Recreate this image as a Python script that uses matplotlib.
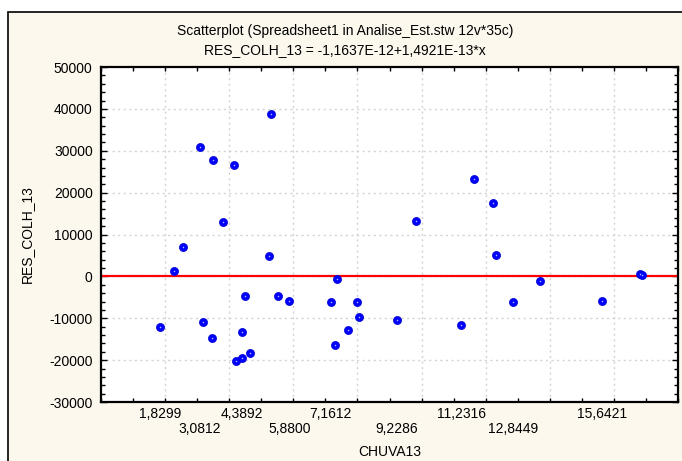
import numpy as np
import matplotlib
matplotlib.use("Agg")
import matplotlib.pyplot as plt
from matplotlib.patches import Rectangle
from matplotlib.ticker import MultipleLocator
from matplotlib.transforms import blended_transform_factory

# ================= DATA =================
chuva13 = [1.8299, 2.27, 2.57, 3.0812, 3.19, 3.45, 3.50, 3.81, 4.14, 4.20,
           4.3892, 4.39, 4.64, 4.50, 5.25, 5.31, 5.51, 5.88, 7.1612, 7.31,
           7.37, 7.70, 8.00, 8.06, 9.2286, 9.82, 11.2316, 11.63, 12.24, 12.31,
           12.8449, 13.69, 15.6421, 16.80, 16.87]
res_colh_13 = [-12100, 1300, 7100, 30900, -11000, -14800, 27700, 12900, 26700, -20100,
               -19600, -13400, -18200, -4800, 4800, 38700, -4800, -5800, -6200, -16300,
               -600, -12900, -6200, -9700, -10500, 13300, -11500, 23300, 17600, 5200,
               -6200, -1000, -5800, 500, 400]

# fitted line coefficients
intercept = -1.1637E-12
slope = 1.4921E-13

# labelled positions along the x axis
x_label_vals = [1.8299, 3.0812, 4.3892, 5.8800, 7.1612, 9.2286, 11.2316, 12.8449, 15.6421]

TITLE = "Scatterplot (Spreadsheet1 in Analise_Est.stw 12v*35c)"
SUBTITLE = "RES_COLH_13 = -1,1637E-12+1,4921E-13*x"
XLABEL = "CHUVA13"
YLABEL = "RES_COLH_13"

# ================= STYLE =================
BG_COLOR = "#FCF8EE"
GRID_COLOR = "#D2D2D2"
FONT = "Liberation Sans"
FS = 10

W, H = 682, 461
fig = plt.figure(figsize=(W / 100, H / 100), dpi=100, facecolor="white")

# cream panel with black border
panel = Rectangle((8 / W, -0.05), 1.1, (H - 12) / H + 0.05, transform=fig.transFigure,
                  facecolor=BG_COLOR, edgecolor="black", linewidth=1.2, zorder=-1)
fig.patches.append(panel)

ax = fig.add_axes([101 / W, 1 - 402 / H, 577 / W, 335 / H])
ax.set_facecolor("white")

ax.set_xlim(0, 18)
ax.set_ylim(-30000, 50000)

# grid
for gx in range(2, 18, 2):
    ax.axvline(gx, color=GRID_COLOR, lw=1, ls=(0, (1.5, 2.5)), zorder=1)
for gy in range(-20000, 50000, 10000):
    ax.axhline(gy, color=GRID_COLOR, lw=1, ls=(0, (1.5, 2.5)), zorder=1)

# fitted line
xs = np.array(ax.get_xlim())
ax.plot(xs, intercept + slope * xs, color="red", lw=1.6, zorder=2)

# points with small highlight
ax.scatter(chuva13, res_colh_13, s=34, color="#0000FF", edgecolors="#0000D0",
           linewidths=0.5, zorder=3)
ax.scatter(chuva13, res_colh_13, s=1.2, color="#B8B8FF", linewidths=0, zorder=4)

# ticks
ax.xaxis.set_major_locator(MultipleLocator(1))
ax.yaxis.set_minor_locator(MultipleLocator(2000))
ax.tick_params(axis="both", which="both", direction="in", top=True, right=True,
               width=1, color="black")
ax.tick_params(axis="x", which="major", length=3, labelbottom=False)
ax.tick_params(axis="y", which="major", length=4, pad=6)
ax.tick_params(axis="y", which="minor", length=3)
ax.set_yticks(range(-30000, 50001, 10000))
ax.set_yticklabels([str(v) for v in range(-30000, 50001, 10000)], fontfamily=FONT, fontsize=FS)

for sp in ax.spines.values():
    sp.set_linewidth(1.6)
    sp.set_color("black")

# staggered x labels
trans = blended_transform_factory(ax.transData, ax.transAxes)
for i, v in enumerate(x_label_vals):
    y_off = -0.035 if i % 2 == 0 else -0.08
    ax.text(v, y_off, f"{v:.4f}".replace(".", ","), transform=trans, ha="center", va="center",
            fontsize=FS, fontfamily=FONT, clip_on=False)

fig.text(390 / W, 1 - 452 / H, XLABEL, ha="center", va="center", fontsize=FS, fontfamily=FONT)
fig.text(27 / W, 1 - 234 / H, YLABEL, ha="center", va="center", rotation=90,
         fontsize=FS, fontfamily=FONT)
fig.text(345 / W, 1 - 31 / H, TITLE, ha="center", va="center", fontsize=FS, fontfamily=FONT)
fig.text(345 / W, 1 - 50 / H, SUBTITLE, ha="center", va="center", fontsize=FS, fontfamily=FONT)

fig.savefig("out.png", dpi=100, facecolor="white")
